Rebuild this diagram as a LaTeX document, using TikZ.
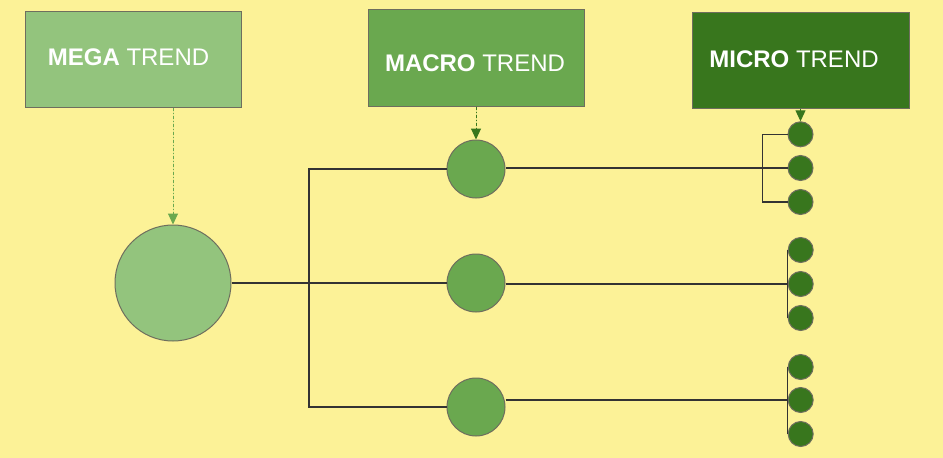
\documentclass[tikz,border=0pt]{standalone}
\usepackage{fontspec}
\setmainfont{Liberation Sans}
\usetikzlibrary{arrows.meta,calc}
\definecolor{bgyellow}{HTML}{FCF297}
\definecolor{megagreen}{HTML}{93C47D}
\definecolor{macrogreen}{HTML}{6AA84F}
\definecolor{microgreen}{HTML}{38761D}
\definecolor{edgegray}{HTML}{6E6E5E}
\definecolor{linedark}{HTML}{333333}
\tikzset{
  trendbox/.style={draw=edgegray, line width=1pt, rectangle, inner sep=0pt, minimum width=216pt, minimum height=96pt},
  trendtext/.style={text=white, inner sep=0pt, font=\fontsize{24}{28}\selectfont},
  bubble/.style={draw=edgegray, line width=1pt, circle, inner sep=0pt},
  megabubble/.style={bubble, fill=megagreen, minimum size=116pt},
  macrobubble/.style={bubble, fill=macrogreen, minimum size=58pt},
  microbubble/.style={bubble, fill=microgreen, minimum size=25pt},
  link/.style={draw=linedark, line width=1.2pt},
  feed/.style={line width=1pt, dash pattern=on 3pt off 2pt on 1pt off 2pt, -{Triangle[length=11pt,width=10pt]}},
}
\begin{document}
\begin{tikzpicture}[x=1pt,y=-1pt]
\fill[bgyellow] (0,0) rectangle (943,458);
\useasboundingbox (0,0) rectangle (943,458);

% boxes
\node[trendbox, fill=megagreen] (megabox) at (133,59) {};
\node[trendbox, fill=macrogreen, minimum height=97pt] (macrobox) at (476,57.5) {};
\node[trendbox, fill=microgreen, minimum width=217pt] (microbox) at (800.5,60) {};
\node[trendtext] (megatext) at (128.5,57) {\textbf{MEGA} TREND};
\node[trendtext] (macrotext) at (475,63) {\textbf{MACRO} TREND};
\node[trendtext] (microtext) at (794,59) {\textbf{MICRO} TREND};

% bubbles
\node[megabubble] (mega) at (173,283) {};
\node[macrobubble] (ma1) at (476,169) {};
\node[macrobubble] (ma2) at (476,283) {};
\node[macrobubble] (ma3) at (476,407) {};
\node[microbubble] (mi11) at (800.5,134.3) {};
\node[microbubble] (mi12) at (800.5,168) {};
\node[microbubble] (mi13) at (800.5,202) {};
\node[microbubble] (mi21) at (800.7,250) {};
\node[microbubble] (mi22) at (800.7,284) {};
\node[microbubble] (mi23) at (800.7,318) {};
\node[microbubble] (mi31) at (800.7,367) {};
\node[microbubble] (mi32) at (800.7,400) {};
\node[microbubble] (mi33) at (800.7,434) {};

% trunk
\coordinate (t1) at (309,169);
\coordinate (t3) at (309,407);
\draw[link] (mega.east) -- (ma2.west);
\draw[link] (ma1.west) -- (t1) -- (t3) -- (ma3.west);

% macro to micro
\coordinate (b1) at (762.7,134.3);
\coordinate (b3) at (762.7,202);
\draw[link] (mi12.west -| ma1.east) -- (mi12.west);
\draw[link] (mi11.west) -- (b1) -- (b3) -- (mi13.west);
\draw[link] (mi22.west -| ma2.east) -- (mi22.west);
\draw[link] (mi21.west) -- (mi23.west);
\draw[link] (mi32.west -| ma3.east) -- (mi32.west);
\draw[link] (mi31.west) -- (mi33.west);

% feeds
\draw[feed, draw=macrogreen, fill=macrogreen] (megabox.south -| mega.north) -- (mega.north);
\draw[feed, draw=microgreen, fill=microgreen] (macrobox.south) -- (ma1.north);
\draw[feed, draw=microgreen, fill=microgreen] (microbox.south) -- (mi11.north);
\end{tikzpicture}
\end{document}
